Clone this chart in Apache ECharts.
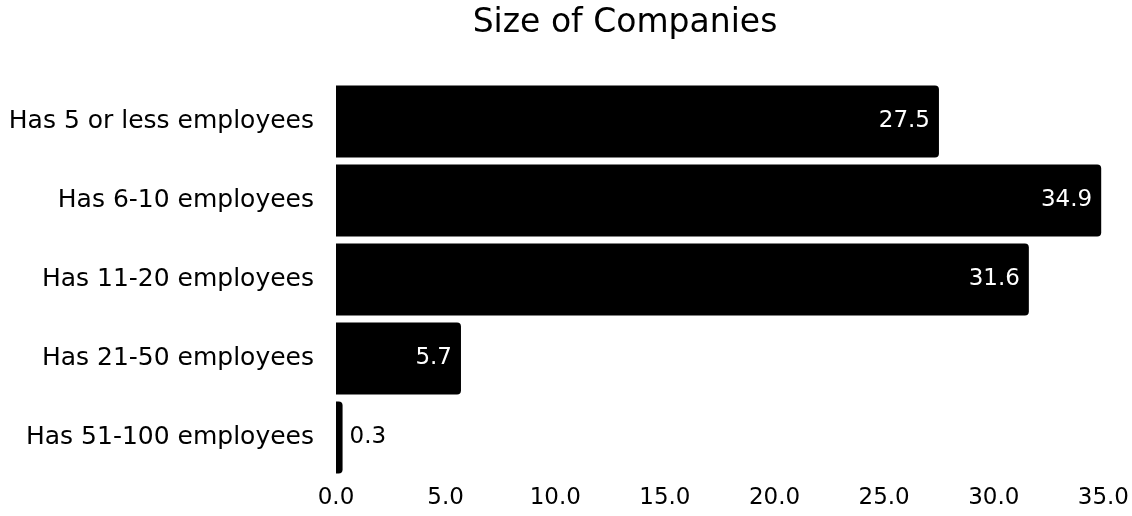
<!DOCTYPE html>
<html>
<head>
<meta charset="utf-8">
<script src="https://cdn.jsdelivr.net/npm/echarts@6/dist/echarts.min.js"></script>
<style>
  html, body { margin: 0; padding: 0; background: #fff; }
  #main { width: 1132px; height: 516px; }
</style>
</head>
<body>
<div id="main"></div>
<script>
// 数据
var categories = ['Has 5 or less employees', 'Has 6-10 employees', 'Has 11-20 employees', 'Has 21-50 employees', 'Has 51-100 employees'];
var values = [27.5, 34.9, 31.6, 5.7, 0.3];
var xTicks = { min: 0, max: 35, interval: 5 };

var FONT = 'DejaVu Sans';

var myChart = echarts.init(document.getElementById('main'));

// 小于阈值的柱子把标签放到外面
var barData = values.map(function (v) {
    if (v < 2) {
        return { value: v, label: { position: 'right', color: '#000', distance: 7 } };
    }
    return v;
});

var option = {
    animation: false,
    title: {
        text: 'Size of Companies',
        left: 620,
        top: 2,
        textAlign: 'center',
        textStyle: { fontFamily: FONT, fontSize: 33, fontWeight: 'normal', color: '#000' }
    },
    grid: { left: 336, right: 28, top: 82, bottom: 39 },
    xAxis: {
        type: 'value',
        min: xTicks.min,
        max: xTicks.max,
        interval: xTicks.interval,
        splitLine: { show: false },
        axisLine: { show: false },
        axisTick: { show: false },
        axisLabel: {
            margin: 10,
            fontFamily: FONT,
            fontSize: 23,
            color: '#000',
            formatter: function (v) { return v.toFixed(1); }
        }
    },
    yAxis: {
        type: 'category',
        inverse: true,
        data: categories,
        axisLine: { show: false },
        axisTick: { show: false },
        axisLabel: { margin: 22, fontFamily: FONT, fontSize: 25, color: '#000' }
    },
    series: [
        {
            type: 'bar',
            data: barData,
            barCategoryGap: '9%',
            itemStyle: { color: '#000', borderRadius: [0, 4, 4, 0] },
            label: {
                show: true,
                position: 'insideRight',
                distance: 9,
                color: '#fff',
                fontFamily: FONT,
                fontSize: 23,
                formatter: function (p) { return p.value.toFixed(1); }
            }
        }
    ]
};
myChart.setOption(option);
</script>
</body>
</html>
